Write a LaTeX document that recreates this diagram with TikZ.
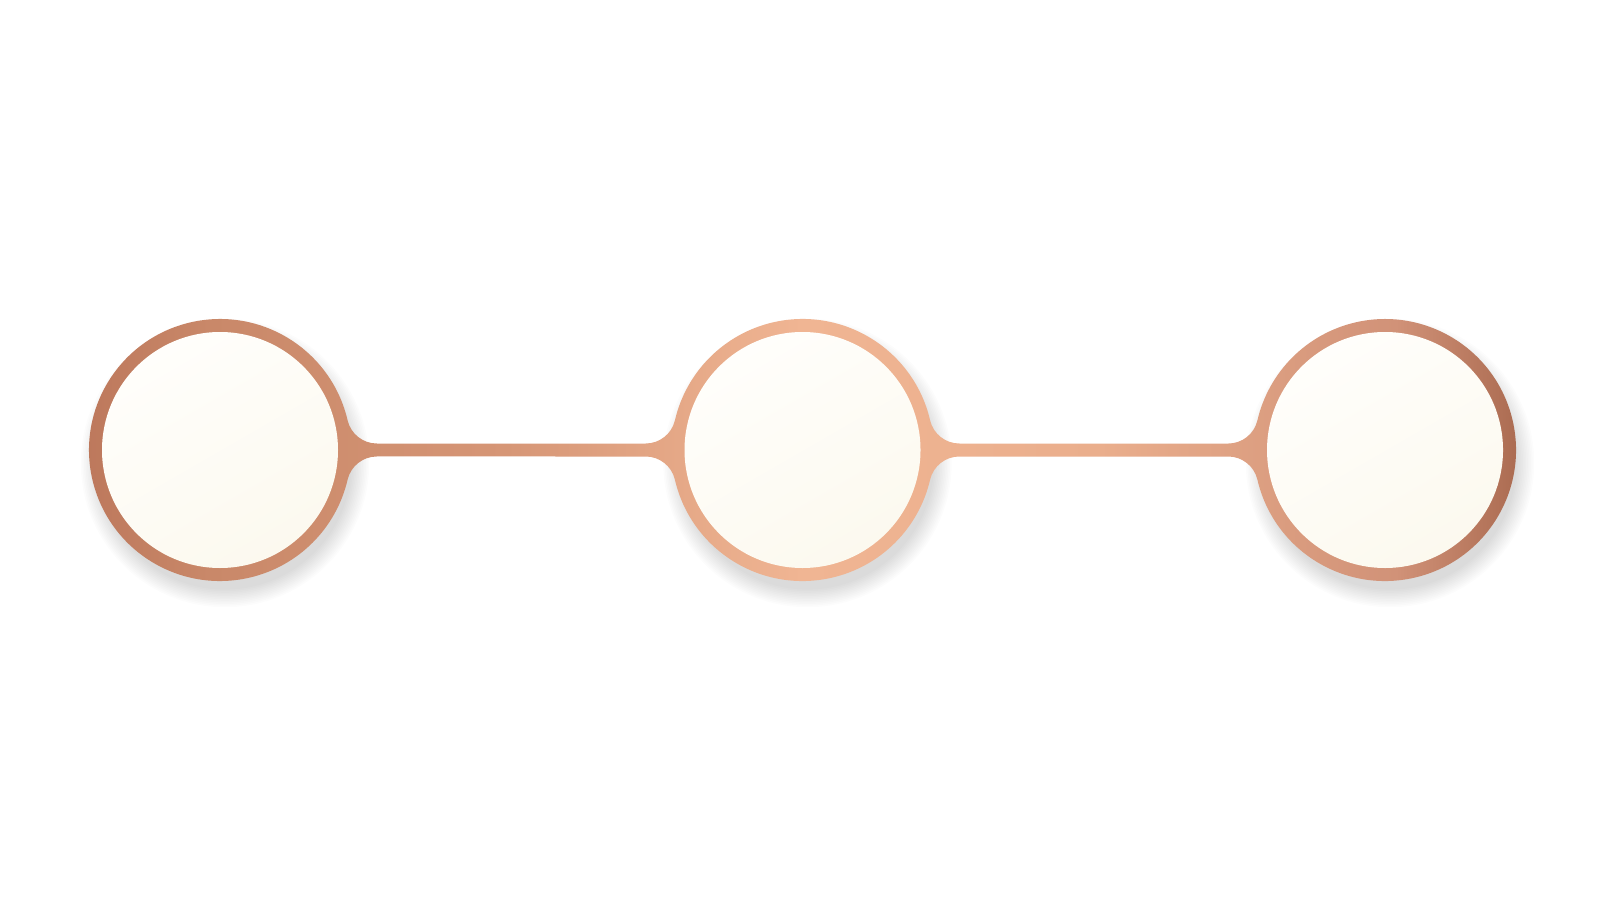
\documentclass[tikz,border=0pt]{standalone}
\usepackage{tikz}

\definecolor{copperdark}{HTML}{BC775B}
\definecolor{copperone}{HTML}{C98869}
\definecolor{copperband}{HTML}{D69676}
\definecolor{copperlight}{HTML}{F0B593}
\definecolor{copperbandtwo}{HTML}{EAAE8C}
\definecolor{copperthree}{HTML}{D19278}
\definecolor{copperend}{HTML}{A8684E}
\definecolor{creamlight}{HTML}{FFFEFB}
\definecolor{creamdark}{HTML}{FCF9EF}

\pgfdeclarehorizontalshading{copper}{100bp}{color(0bp)=(copperdark); color(25bp)=(copperdark); color(29.6bp)=(copperone); color(39.8bp)=(copperband); color(50bp)=(copperlight); color(60.2bp)=(copperbandtwo); color(70.4bp)=(copperthree); color(75bp)=(copperend); color(100bp)=(copperend)}

\tikzset{
  ringshadow/.style={fill=black, opacity=0.010},
  face/.style={top color=creamlight, bottom color=creamdark, shading angle=30}
}

\def\ringr{1.31}
\def\facer{1.18}
\def\fil{0.3}
\def\band{0.065}
\def\ang{13.1}
\def\off{1.5681}

\begin{document}
\begin{tikzpicture}
\fill[white] (0,0) rectangle (16,9);
\useasboundingbox (0,0) rectangle (16,9);

\coordinate (c1) at (2.20,4.5);
\coordinate (c2) at (8.025,4.5);
\coordinate (c3) at (13.85,4.5);

\foreach \c in {c1,c2,c3}
  \foreach \i in {1,...,12}
    \fill[ringshadow] ([shift={(0.05,-0.13)}]\c) circle[radius=\ringr-0.06+0.016*\i];

\path[shading=copper] ([shift={(\ang:\ringr)}]c1)
  arc[start angle=\ang, end angle=360-\ang, radius=\ringr]
  arc[start angle=180-\ang, end angle=90, radius=\fil]
  -- ([shift={(-\off,-\band)}]c2)
  arc[start angle=90, end angle=\ang, radius=\fil]
  arc[start angle=180+\ang, end angle=360-\ang, radius=\ringr]
  arc[start angle=180-\ang, end angle=90, radius=\fil]
  -- ([shift={(-\off,-\band)}]c3)
  arc[start angle=90, end angle=\ang, radius=\fil]
  arc[start angle=180+\ang, end angle=540-\ang, radius=\ringr]
  arc[start angle=-\ang, end angle=-90, radius=\fil]
  -- ([shift={(\off,\band)}]c2)
  arc[start angle=-90, end angle=-180+\ang, radius=\fil]
  arc[start angle=\ang, end angle=180-\ang, radius=\ringr]
  arc[start angle=-\ang, end angle=-90, radius=\fil]
  -- ([shift={(\off,\band)}]c1)
  arc[start angle=-90, end angle=-180+\ang, radius=\fil]
  -- cycle;

\foreach \c in {c1,c2,c3}
  \shade[face] (\c) circle[radius=\facer];
\end{tikzpicture}
\end{document}
